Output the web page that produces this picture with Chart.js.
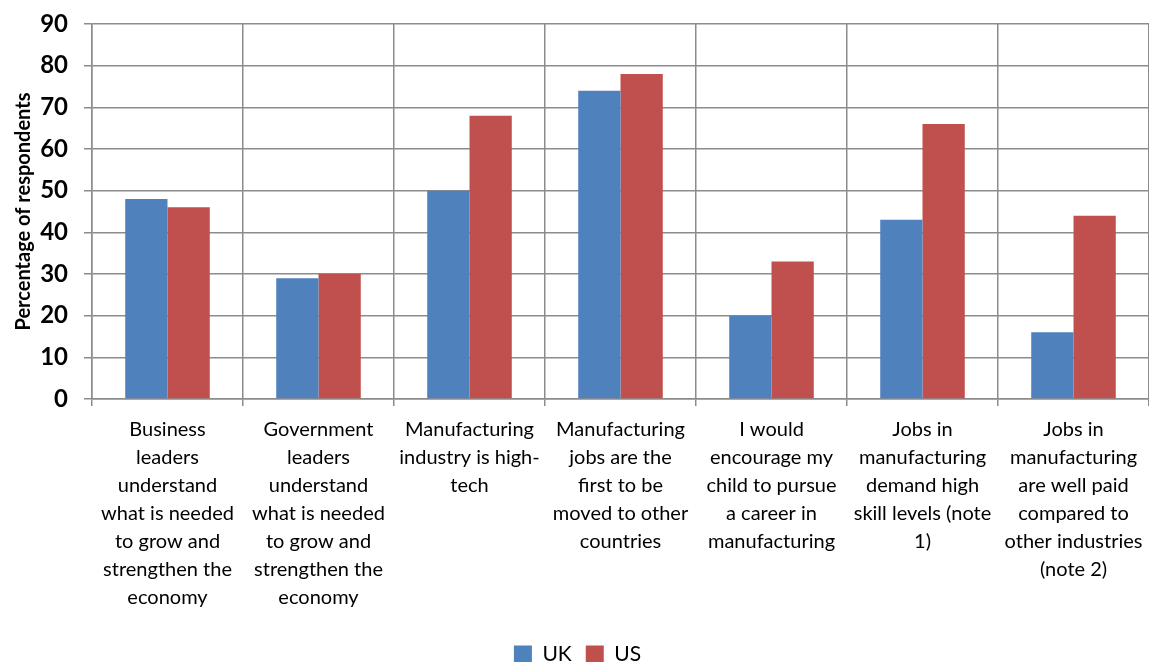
<!DOCTYPE html>
<html>
<head>
<meta charset="utf-8">
<script src="https://cdn.jsdelivr.net/npm/chart.js@4"></script>
<style>
  html, body { margin: 0; padding: 0; background: #fff; }
  #wrap { width: 1149px; height: 662px; position: relative; }
</style>
</head>
<body>
<div id="wrap"><canvas id="c"></canvas></div>
<script>
// Survey statements (wrapped onto several lines)
const categories = [
  ["Business", "leaders", "understand", "what is needed", "to grow and", "strengthen the", "economy"],
  ["Government", "leaders", "understand", "what is needed", "to grow and", "strengthen the", "economy"],
  ["Manufacturing", "industry is high-", "tech"],
  ["Manufacturing", "jobs are the", "first to be", "moved to other", "countries"],
  ["I would", "encourage my", "child to pursue", "a career in", "manufacturing"],
  ["Jobs in", "manufacturing", "demand high", "skill levels (note", "1)"],
  ["Jobs in", "manufacturing", "are well paid", "compared to", "other industries", "(note 2)"]
];

// Percentage of respondents agreeing
const ukValues = [48, 29, 50, 74, 20, 43, 16];
const usValues = [46, 30, 68, 78, 33, 66, 44];

const yTicks = [0, 10, 20, 30, 40, 50, 60, 70, 80, 90];

const FONT = "Lato, 'Open Sans', sans-serif";
const GRID = "#8c8c8c";

new Chart(document.getElementById("c"), {
  type: "bar",
  data: {
    labels: categories,
    datasets: [
      { label: "UK", data: ukValues, backgroundColor: "#4f81bd", borderWidth: 0,
        categoryPercentage: 0.56, barPercentage: 1.0 },
      { label: "US", data: usValues, backgroundColor: "#c0504d", borderWidth: 0,
        categoryPercentage: 0.56, barPercentage: 1.0 }
    ]
  },
  options: {
    responsive: true,
    maintainAspectRatio: false,
    animation: false,
    layout: { padding: { top: 24, right: 0, left: 6, bottom: -13 } },
    plugins: {
      tooltip: { enabled: false },
      legend: {
        position: "bottom",
        labels: {
          boxWidth: 18, boxHeight: 18, padding: 14,
          color: "#000",
          font: { family: FONT, size: 21 }
        }
      }
    },
    scales: {
      x: {
        offset: true,
        afterFit: (axis) => {
          axis.height = 231;
          axis.paddingLeft = 0;
          axis.paddingRight = 0;
        },
        grid: { offset: true, color: GRID, lineWidth: 1.5, tickLength: 7, drawOnChartArea: true },
        border: { color: GRID, width: 1.5 },
        ticks: {
          color: "#000", maxRotation: 0, autoSkip: false, padding: 10,
          font: { family: FONT, size: 20, lineHeight: 1.4 }
        }
      },
      y: {
        min: 0, max: 90,
        afterBuildTicks: (axis) => { axis.ticks = yTicks.map(v => ({ value: v })); },
        afterFit: (axis) => {
          axis.width = 86;
          axis.paddingTop = 0;
          axis.paddingBottom = 0;
        },
        grid: { color: GRID, lineWidth: 1.5, tickLength: 8 },
        border: { color: GRID, width: 1.5 },
        title: {
          display: true, text: "Percentage of respondents", color: "#000",
          font: { family: FONT, size: 20, weight: "bold" }, padding: { top: 6, bottom: 2 }
        },
        ticks: {
          color: "#000", padding: 16,
          font: { family: FONT, size: 24, weight: "bold" }
        }
      }
    }
  }
});
</script>
</body>
</html>
